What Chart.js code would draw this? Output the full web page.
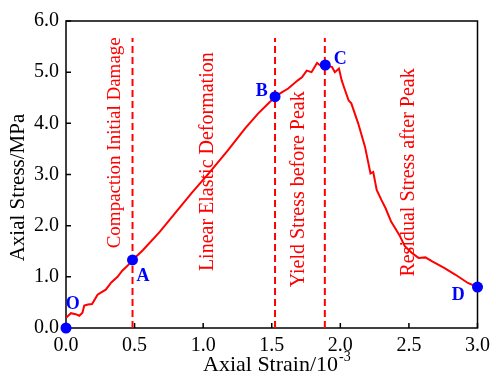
<!DOCTYPE html>
<html lang="en">
<head>
  <meta charset="UTF-8">
  <script src="https://cdn.jsdelivr.net/npm/chart.js@4.4.1/dist/chart.umd.min.js"></script>
  <title>Axial stress-strain</title>
  <style>
    html, body { margin: 0; padding: 0; background: #fff; }
    .chart-container { width: 496px; height: 377px; }
  </style>
</head>
<body>
  <div class="chart-container">
    <canvas id="stressChart"></canvas>
  </div>

  <script>
    // stress-strain curve (strain in 10^-3, stress in MPa)
    const strain = [0, 0.036, 0.07, 0.097, 0.12, 0.133, 0.16, 0.19, 0.23, 0.26, 0.29, 0.33, 0.376, 0.41, 0.45, 0.485,
      0.56, 0.68, 0.8, 0.92, 1.05, 1.18, 1.306, 1.40, 1.46, 1.524, 1.57, 1.62, 1.69, 1.72, 1.755, 1.79, 1.83, 1.86, 1.89,
      1.94, 1.96, 1.99, 2.01, 2.03, 2.06, 2.08, 2.13, 2.18, 2.22, 2.24, 2.265, 2.30, 2.33, 2.37, 2.43, 2.47, 2.52, 2.57,
      2.62, 2.67, 2.76, 2.84, 2.93, 3.0];
    const stress = [0.2, 0.29, 0.27, 0.24, 0.3, 0.44, 0.46, 0.47, 0.65, 0.7, 0.75, 0.89, 1.0, 1.12, 1.22, 1.33,
      1.52, 1.87, 2.26, 2.65, 3.05, 3.47, 3.9, 4.19, 4.35, 4.52, 4.6, 4.68, 4.84, 4.9, 5.03, 5.0, 5.18, 5.12, 5.14,
      5.1, 5.0, 5.07, 4.84, 4.68, 4.45, 4.39, 4.0, 3.54, 3.02, 3.05, 2.7, 2.5, 2.34, 2.08, 1.82, 1.6, 1.47, 1.37,
      1.38, 1.30, 1.17, 1.04, 0.88, 0.8];

    // key points
    const keyNames = ['O', 'A', 'B', 'C', 'D'];
    const keyStrain = [0, 0.485, 1.524, 1.89, 3.0];
    const keyStress = [0, 1.33, 4.52, 5.14, 0.8];
    const keyLabelStrain = [0.05, 0.562, 1.427, 2.0, 2.86];
    const keyLabelStress = [0.46, 1.0, 4.63, 5.26, 0.64];

    // stage boundaries and stage names
    const boundaryStrain = [0.485, 1.524, 1.887];
    const boundaryTop = 5.67;
    const stageNames = ['Compaction Initial Damage', 'Linear Elastic Deformation', 'Yield Stress before Peak', 'Residual Stress after Peak'];
    const stageStrain = [0.395, 1.072, 1.734, 2.535];
    const stageStress = [3.62, 3.25, 2.71, 3.04];
    const stageSize = [19, 20, 20, 20];

    const xTicks = [0, 0.5, 1, 1.5, 2, 2.5, 3];
    const yTicks = [0, 1, 2, 3, 4, 5, 6];

    const serif = '"Liberation Serif", "Times New Roman", serif';

    const curveData = strain.map((s, i) => ({ x: s, y: stress[i] }));
    const keyData = keyStrain.map((s, i) => ({ x: s, y: keyStress[i] }));

    const boundarySets = boundaryStrain.map(b => ({
      data: [{ x: b, y: 0 }, { x: b, y: boundaryTop }],
      showLine: true,
      borderColor: '#ff0000',
      borderWidth: 2,
      borderDash: [7, 4],
      pointRadius: 0,
      order: 3
    }));

    const framePlugin = {
      id: 'frame',
      beforeDatasetsDraw(chart) {
        const { ctx, chartArea: a, scales } = chart;
        ctx.save();
        ctx.strokeStyle = '#000';
        ctx.lineWidth = 1.5;
        ctx.strokeRect(a.left, a.top, a.right - a.left, a.bottom - a.top);
        ctx.beginPath();
        xTicks.forEach(t => {
          const px = scales.x.getPixelForValue(t);
          ctx.moveTo(px, a.bottom);
          ctx.lineTo(px, a.bottom - 5);
        });
        yTicks.forEach(t => {
          const py = scales.y.getPixelForValue(t);
          ctx.moveTo(a.left, py);
          ctx.lineTo(a.left + 5, py);
        });
        ctx.stroke();
        ctx.restore();
      },
      afterDatasetsDraw(chart) {
        const { ctx, scales } = chart;
        ctx.save();
        // key point letters
        ctx.fillStyle = '#0000ff';
        ctx.font = 'bold 18px ' + serif;
        ctx.textAlign = 'center';
        ctx.textBaseline = 'middle';
        keyNames.forEach((n, i) => {
          ctx.fillText(n, scales.x.getPixelForValue(keyLabelStrain[i]), scales.y.getPixelForValue(keyLabelStress[i]));
        });
        // stage names, vertical
        ctx.fillStyle = '#ff0000';
        ctx.textBaseline = 'alphabetic';
        stageNames.forEach((n, i) => {
          ctx.save();
          ctx.font = stageSize[i] + 'px ' + serif;
          ctx.translate(scales.x.getPixelForValue(stageStrain[i]), scales.y.getPixelForValue(stageStress[i]));
          ctx.rotate(-Math.PI / 2);
          ctx.fillText(n, 0, 0);
          ctx.restore();
        });
        ctx.restore();
      },
      afterDraw(chart) {
        const { ctx, chartArea: a } = chart;
        ctx.save();
        ctx.fillStyle = '#000';
        // y title
        ctx.font = '21px ' + serif;
        ctx.textAlign = 'center';
        ctx.textBaseline = 'alphabetic';
        ctx.translate(24, 187.5);
        ctx.rotate(-Math.PI / 2);
        ctx.fillText('Axial Stress/MPa', 0, 0);
        ctx.restore();
        // x title with superscript
        ctx.save();
        ctx.fillStyle = '#000';
        ctx.textAlign = 'left';
        ctx.textBaseline = 'alphabetic';
        ctx.font = '22px ' + serif;
        const main = 'Axial Strain/10';
        ctx.fillText(main, 203, 371);
        const w = ctx.measureText(main).width;
        ctx.font = '14px ' + serif;
        ctx.fillText('-3', 203 + w + 1, 361);
        ctx.restore();
      }
    };

    new Chart(document.getElementById('stressChart'), {
      type: 'scatter',
      data: {
        datasets: [
          {
            data: curveData,
            showLine: true,
            borderColor: '#ff0000',
            borderWidth: 2,
            pointRadius: 0,
            order: 2
          },
          ...boundarySets,
          {
            data: keyData,
            backgroundColor: '#0000ff',
            borderColor: '#0000ff',
            pointRadius: 5.5,
            borderWidth: 0,
            clip: false,
            order: 1
          }
        ]
      },
      options: {
        responsive: true,
        maintainAspectRatio: false,
        animation: false,
        layout: { padding: { left: 0, right: 17, top: 21, bottom: 0 } },
        plugins: { legend: { display: false }, tooltip: { enabled: false } },
        scales: {
          x: {
            type: 'linear',
            min: 0,
            max: 3,
            grid: { display: false, drawTicks: false, tickLength: 0 },
            border: { display: false },
            afterFit(scale) { scale.height = 49; },
            ticks: {
              stepSize: 0.5,
              padding: 6,
              color: '#000',
              font: { family: serif, size: 20 },
              callback: v => v.toFixed(1)
            }
          },
          y: {
            type: 'linear',
            min: 0,
            max: 6,
            grid: { display: false, drawTicks: false, tickLength: 0 },
            border: { display: false },
            afterFit(scale) { scale.width = 66; },
            ticks: {
              stepSize: 1,
              padding: 7,
              color: '#000',
              font: { family: serif, size: 20 },
              callback: v => v.toFixed(1)
            }
          }
        }
      },
      plugins: [framePlugin]
    });
  </script>
</body>
</html>
